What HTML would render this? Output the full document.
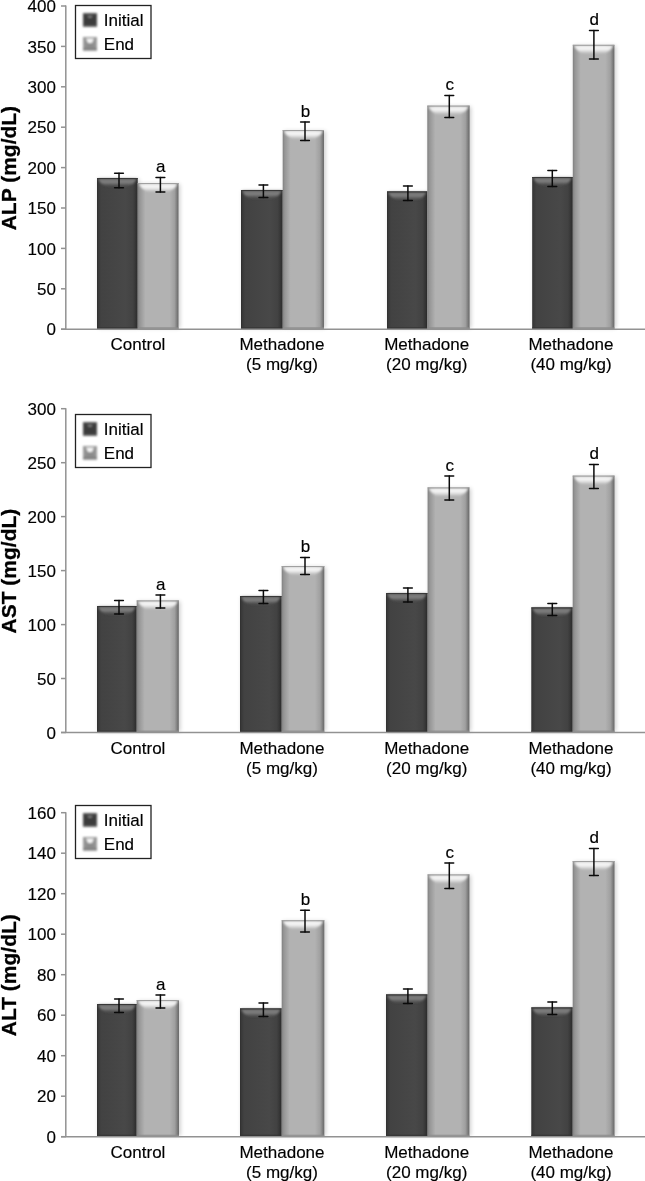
<!DOCTYPE html>
<html><head><meta charset="utf-8"><style>
html,body{margin:0;padding:0;background:#fff;}
svg{display:block;will-change:transform;}
</style></head><body>
<svg width="645" height="1181" viewBox="0 0 645 1181" font-family='"Liberation Sans", sans-serif'>
<rect width="645" height="1181" fill="#fff"/>

<defs>
  <linearGradient id="gD" x1="0" y1="0" x2="1" y2="0">
    <stop offset="0" stop-color="#2e2e2e"/>
    <stop offset="0.03" stop-color="#383838"/>
    <stop offset="0.1" stop-color="#424242"/>
    <stop offset="0.7" stop-color="#484848"/>
    <stop offset="0.88" stop-color="#424242"/>
    <stop offset="0.96" stop-color="#343434"/>
    <stop offset="1" stop-color="#2a2a2a"/>
  </linearGradient>
  <linearGradient id="gL" x1="0" y1="0" x2="1" y2="0">
    <stop offset="0" stop-color="#808080"/>
    <stop offset="0.05" stop-color="#959595"/>
    <stop offset="0.19" stop-color="#b2b2b2"/>
    <stop offset="0.78" stop-color="#b2b2b2"/>
    <stop offset="0.9" stop-color="#a0a0a0"/>
    <stop offset="0.94" stop-color="#8a8a8a"/>
    <stop offset="0.97" stop-color="#777777"/>
    <stop offset="1" stop-color="#6a6a6a"/>
  </linearGradient>
  <linearGradient id="hD" x1="0" y1="0" x2="0" y2="1">
    <stop offset="0" stop-color="#767676" stop-opacity="1"/>
    <stop offset="0.45" stop-color="#808080" stop-opacity="1"/>
    <stop offset="0.75" stop-color="#666666" stop-opacity="0.6"/>
    <stop offset="1" stop-color="#4a4a4a" stop-opacity="0"/>
  </linearGradient>
  <linearGradient id="hL" x1="0" y1="0" x2="0" y2="1">
    <stop offset="0" stop-color="#ffffff" stop-opacity="0.85"/>
    <stop offset="0.45" stop-color="#ffffff" stop-opacity="0.85"/>
    <stop offset="0.8" stop-color="#ffffff" stop-opacity="0.35"/>
    <stop offset="1" stop-color="#ffffff" stop-opacity="0"/>
  </linearGradient>
  <filter id="sb" x="-20%" y="-50%" width="140%" height="200%">
    <feGaussianBlur stdDeviation="0.9"/>
  </filter>
  <filter id="sh" x="-50%" y="-50%" width="200%" height="200%">
    <feGaussianBlur stdDeviation="2"/>
  </filter>
</defs>

<text x="0" y="0" transform="translate(16,168.1) rotate(-90)" text-anchor="middle" font-size="21" font-weight="bold" fill="#000" stroke="#000" stroke-width="0.3">ALP (mg/dL)</text>
<line x1="61" y1="329.2" x2="66" y2="329.2" stroke="#929292" stroke-width="1.5"/>
<text x="55.9" y="335.4" text-anchor="end" font-size="17" fill="#000" stroke="#000" stroke-width="0.15">0</text>
<line x1="61" y1="288.8" x2="66" y2="288.8" stroke="#929292" stroke-width="1.5"/>
<text x="55.9" y="295.0" text-anchor="end" font-size="17" fill="#000" stroke="#000" stroke-width="0.15">50</text>
<line x1="61" y1="248.4" x2="66" y2="248.4" stroke="#929292" stroke-width="1.5"/>
<text x="55.9" y="254.6" text-anchor="end" font-size="17" fill="#000" stroke="#000" stroke-width="0.15">100</text>
<line x1="61" y1="208.0" x2="66" y2="208.0" stroke="#929292" stroke-width="1.5"/>
<text x="55.9" y="214.2" text-anchor="end" font-size="17" fill="#000" stroke="#000" stroke-width="0.15">150</text>
<line x1="61" y1="167.6" x2="66" y2="167.6" stroke="#929292" stroke-width="1.5"/>
<text x="55.9" y="173.8" text-anchor="end" font-size="17" fill="#000" stroke="#000" stroke-width="0.15">200</text>
<line x1="61" y1="127.2" x2="66" y2="127.2" stroke="#929292" stroke-width="1.5"/>
<text x="55.9" y="133.4" text-anchor="end" font-size="17" fill="#000" stroke="#000" stroke-width="0.15">250</text>
<line x1="61" y1="86.8" x2="66" y2="86.8" stroke="#929292" stroke-width="1.5"/>
<text x="55.9" y="93.0" text-anchor="end" font-size="17" fill="#000" stroke="#000" stroke-width="0.15">300</text>
<line x1="61" y1="46.4" x2="66" y2="46.4" stroke="#929292" stroke-width="1.5"/>
<text x="55.9" y="52.6" text-anchor="end" font-size="17" fill="#000" stroke="#000" stroke-width="0.15">350</text>
<line x1="61" y1="6.0" x2="66" y2="6.0" stroke="#929292" stroke-width="1.5"/>
<text x="55.9" y="12.2" text-anchor="end" font-size="17" fill="#000" stroke="#000" stroke-width="0.15">400</text>
<rect x="98.5" y="179.0" width="40.7" height="149.2" fill="#000" opacity="0.2" filter="url(#sh)"/>
<rect x="97.0" y="178.0" width="40.7" height="151.2" fill="url(#gD)"/>
<path d="M98.0,178.8 L136.7,178.8 Q133.6,185.2 126.7,187.0 L108.0,187.0 Q101.0,185.2 98.0,178.8 Z" fill="url(#hD)" filter="url(#sb)"/>
<rect x="97.0" y="327.2" width="40.7" height="2" fill="#353535" opacity="0.8"/>
<rect x="97.0" y="178.0" width="40.7" height="1" fill="#383838"/>
<rect x="139.2" y="184.0" width="40.8" height="144.2" fill="#000" opacity="0.2" filter="url(#sh)"/>
<rect x="137.7" y="183.0" width="40.8" height="146.2" fill="url(#gL)"/>
<path d="M138.7,183.8 L177.5,183.8 Q174.4,190.2 167.5,192.0 L148.7,192.0 Q141.8,190.2 138.7,183.8 Z" fill="url(#hL)" filter="url(#sb)"/>
<rect x="137.7" y="327.2" width="40.8" height="2" fill="#8c8c8c" opacity="0.8"/>
<rect x="137.7" y="183.0" width="40.8" height="1" fill="#a0a0a0"/>
<rect x="242.5" y="191.0" width="41.7" height="137.2" fill="#000" opacity="0.2" filter="url(#sh)"/>
<rect x="241.0" y="190.0" width="41.7" height="139.2" fill="url(#gD)"/>
<path d="M242.0,190.8 L281.7,190.8 Q278.6,197.2 271.7,199.0 L252.0,199.0 Q245.1,197.2 242.0,190.8 Z" fill="url(#hD)" filter="url(#sb)"/>
<rect x="241.0" y="327.2" width="41.7" height="2" fill="#353535" opacity="0.8"/>
<rect x="241.0" y="190.0" width="41.7" height="1" fill="#383838"/>
<rect x="284.2" y="131.0" width="41.3" height="197.2" fill="#000" opacity="0.2" filter="url(#sh)"/>
<rect x="282.7" y="130.0" width="41.3" height="199.2" fill="url(#gL)"/>
<path d="M283.7,130.8 L323.0,130.8 Q319.9,137.2 313.0,139.0 L293.7,139.0 Q286.8,137.2 283.7,130.8 Z" fill="url(#hL)" filter="url(#sb)"/>
<rect x="282.7" y="327.2" width="41.3" height="2" fill="#8c8c8c" opacity="0.8"/>
<rect x="282.7" y="130.0" width="41.3" height="1" fill="#a0a0a0"/>
<rect x="388.5" y="192.4" width="40.3" height="135.8" fill="#000" opacity="0.2" filter="url(#sh)"/>
<rect x="387.0" y="191.4" width="40.3" height="137.8" fill="url(#gD)"/>
<path d="M388.0,192.2 L426.3,192.2 Q423.2,198.6 416.3,200.4 L398.0,200.4 Q391.1,198.6 388.0,192.2 Z" fill="url(#hD)" filter="url(#sb)"/>
<rect x="387.0" y="327.2" width="40.3" height="2" fill="#353535" opacity="0.8"/>
<rect x="387.0" y="191.4" width="40.3" height="1" fill="#383838"/>
<rect x="428.8" y="106.6" width="42.3" height="221.6" fill="#000" opacity="0.2" filter="url(#sh)"/>
<rect x="427.3" y="105.6" width="42.3" height="223.6" fill="url(#gL)"/>
<path d="M428.3,106.4 L468.6,106.4 Q465.6,112.8 458.6,114.6 L438.3,114.6 Q431.4,112.8 428.3,106.4 Z" fill="url(#hL)" filter="url(#sb)"/>
<rect x="427.3" y="327.2" width="42.3" height="2" fill="#8c8c8c" opacity="0.8"/>
<rect x="427.3" y="105.6" width="42.3" height="1" fill="#a0a0a0"/>
<rect x="533.7" y="178.0" width="40.6" height="150.2" fill="#000" opacity="0.2" filter="url(#sh)"/>
<rect x="532.2" y="177.0" width="40.6" height="152.2" fill="url(#gD)"/>
<path d="M533.2,177.8 L571.8,177.8 Q568.8,184.2 561.8,186.0 L543.2,186.0 Q536.2,184.2 533.2,177.8 Z" fill="url(#hD)" filter="url(#sb)"/>
<rect x="532.2" y="327.2" width="40.6" height="2" fill="#353535" opacity="0.8"/>
<rect x="532.2" y="177.0" width="40.6" height="1" fill="#383838"/>
<rect x="574.3" y="45.8" width="41.6" height="282.4" fill="#000" opacity="0.2" filter="url(#sh)"/>
<rect x="572.8" y="44.8" width="41.6" height="284.4" fill="url(#gL)"/>
<path d="M573.8,45.6 L613.4,45.6 Q610.4,52.0 603.4,53.8 L583.8,53.8 Q576.8,52.0 573.8,45.6 Z" fill="url(#hL)" filter="url(#sb)"/>
<rect x="572.8" y="327.2" width="41.6" height="2" fill="#8c8c8c" opacity="0.8"/>
<rect x="572.8" y="44.8" width="41.6" height="1" fill="#a0a0a0"/>
<line x1="65.8" y1="5.5" x2="65.8" y2="329.2" stroke="#929292" stroke-width="1.5"/>
<line x1="61" y1="329.2" x2="645" y2="329.2" stroke="#929292" stroke-width="1.5"/>
<g stroke="#0a0a0a" stroke-width="1.5" fill="none" stroke-linecap="round"><line x1="119.0" y1="173.3" x2="119.0" y2="187.7"/><line x1="114.6" y1="173.3" x2="123.4" y2="173.3"/><line x1="114.6" y1="187.7" x2="123.4" y2="187.7"/></g>
<g stroke="#0a0a0a" stroke-width="1.5" fill="none" stroke-linecap="round"><line x1="160.4" y1="177.5" x2="160.4" y2="192.0"/><line x1="156.0" y1="177.5" x2="164.8" y2="177.5"/><line x1="156.0" y1="192.0" x2="164.8" y2="192.0"/></g>
<text x="160.8" y="172.3" text-anchor="middle" font-size="17" fill="#000" stroke="#000" stroke-width="0.15">a</text>
<g stroke="#0a0a0a" stroke-width="1.5" fill="none" stroke-linecap="round"><line x1="263.4" y1="185.0" x2="263.4" y2="197.4"/><line x1="259.0" y1="185.0" x2="267.8" y2="185.0"/><line x1="259.0" y1="197.4" x2="267.8" y2="197.4"/></g>
<g stroke="#0a0a0a" stroke-width="1.5" fill="none" stroke-linecap="round"><line x1="305.0" y1="122.0" x2="305.0" y2="140.6"/><line x1="300.6" y1="122.0" x2="309.4" y2="122.0"/><line x1="300.6" y1="140.6" x2="309.4" y2="140.6"/></g>
<text x="305.4" y="116.8" text-anchor="middle" font-size="17" fill="#000" stroke="#000" stroke-width="0.15">b</text>
<g stroke="#0a0a0a" stroke-width="1.5" fill="none" stroke-linecap="round"><line x1="407.9" y1="186.0" x2="407.9" y2="200.4"/><line x1="403.5" y1="186.0" x2="412.3" y2="186.0"/><line x1="403.5" y1="200.4" x2="412.3" y2="200.4"/></g>
<g stroke="#0a0a0a" stroke-width="1.5" fill="none" stroke-linecap="round"><line x1="449.3" y1="95.6" x2="449.3" y2="117.4"/><line x1="444.9" y1="95.6" x2="453.7" y2="95.6"/><line x1="444.9" y1="117.4" x2="453.7" y2="117.4"/></g>
<text x="449.7" y="90.4" text-anchor="middle" font-size="17" fill="#000" stroke="#000" stroke-width="0.15">c</text>
<g stroke="#0a0a0a" stroke-width="1.5" fill="none" stroke-linecap="round"><line x1="552.3" y1="170.4" x2="552.3" y2="186.4"/><line x1="547.9" y1="170.4" x2="556.7" y2="170.4"/><line x1="547.9" y1="186.4" x2="556.7" y2="186.4"/></g>
<g stroke="#0a0a0a" stroke-width="1.5" fill="none" stroke-linecap="round"><line x1="593.9" y1="30.4" x2="593.9" y2="59.0"/><line x1="589.5" y1="30.4" x2="598.3" y2="30.4"/><line x1="589.5" y1="59.0" x2="598.3" y2="59.0"/></g>
<text x="594.3" y="25.2" text-anchor="middle" font-size="17" fill="#000" stroke="#000" stroke-width="0.15">d</text>
<text x="138.0" y="350.3" text-anchor="middle" font-size="17" fill="#000" stroke="#000" stroke-width="0.15">Control</text>
<text x="282.0" y="350.3" text-anchor="middle" font-size="17" fill="#000" stroke="#000" stroke-width="0.15">Methadone</text>
<text x="282.0" y="370.3" text-anchor="middle" font-size="17" fill="#000" stroke="#000" stroke-width="0.15">(5 mg/kg)</text>
<text x="426.7" y="350.3" text-anchor="middle" font-size="17" fill="#000" stroke="#000" stroke-width="0.15">Methadone</text>
<text x="426.7" y="370.3" text-anchor="middle" font-size="17" fill="#000" stroke="#000" stroke-width="0.15">(20 mg/kg)</text>
<text x="571.0" y="350.3" text-anchor="middle" font-size="17" fill="#000" stroke="#000" stroke-width="0.15">Methadone</text>
<text x="571.0" y="370.3" text-anchor="middle" font-size="17" fill="#000" stroke="#000" stroke-width="0.15">(40 mg/kg)</text>
<rect x="75.5" y="5.5" width="75.5" height="53" fill="#fff" stroke="#222" stroke-width="1.3"/>
<g filter="url(#sb)"><rect x="83" y="13.0" width="14" height="14" fill="#444"/><rect x="85" y="14.5" width="10" height="11" fill="#3a3a3a"/><rect x="83" y="13.0" width="14" height="1.2" fill="#5e5e5e"/><rect x="83" y="25.6" width="14" height="1.4" fill="#6a6a6a"/><path d="M87.5,15.5 L92.5,15.5 L91.5,18.0 L88.5,18.0 Z" fill="#7a7a7a"/></g>
<text x="103.8" y="25.7" font-size="17" fill="#000" stroke="#000" stroke-width="0.15">Initial</text>
<g filter="url(#sb)"><rect x="83" y="37.0" width="14" height="14" fill="#9a9a9a"/><rect x="85.5" y="38.5" width="9" height="10.5" fill="#8c8c8c"/><rect x="83" y="48.0" width="14" height="1.8" fill="#7c7c7c"/><rect x="83" y="49.8" width="14" height="1.2" fill="#a5a5a5"/><path d="M86,38.5 L94,38.5 L92,43.0 L88,43.0 Z" fill="#f4f4f4"/></g>
<text x="103.8" y="49.7" font-size="17" fill="#000" stroke="#000" stroke-width="0.15">End</text>
<text x="0" y="0" transform="translate(16,571.1) rotate(-90)" text-anchor="middle" font-size="21" font-weight="bold" fill="#000" stroke="#000" stroke-width="0.3">AST (mg/dL)</text>
<line x1="61" y1="732.5" x2="66" y2="732.5" stroke="#929292" stroke-width="1.5"/>
<text x="55.9" y="738.7" text-anchor="end" font-size="17" fill="#000" stroke="#000" stroke-width="0.15">0</text>
<line x1="61" y1="678.5" x2="66" y2="678.5" stroke="#929292" stroke-width="1.5"/>
<text x="55.9" y="684.7" text-anchor="end" font-size="17" fill="#000" stroke="#000" stroke-width="0.15">50</text>
<line x1="61" y1="624.6" x2="66" y2="624.6" stroke="#929292" stroke-width="1.5"/>
<text x="55.9" y="630.8" text-anchor="end" font-size="17" fill="#000" stroke="#000" stroke-width="0.15">100</text>
<line x1="61" y1="570.6" x2="66" y2="570.6" stroke="#929292" stroke-width="1.5"/>
<text x="55.9" y="576.8" text-anchor="end" font-size="17" fill="#000" stroke="#000" stroke-width="0.15">150</text>
<line x1="61" y1="516.6" x2="66" y2="516.6" stroke="#929292" stroke-width="1.5"/>
<text x="55.9" y="522.8" text-anchor="end" font-size="17" fill="#000" stroke="#000" stroke-width="0.15">200</text>
<line x1="61" y1="462.7" x2="66" y2="462.7" stroke="#929292" stroke-width="1.5"/>
<text x="55.9" y="468.9" text-anchor="end" font-size="17" fill="#000" stroke="#000" stroke-width="0.15">250</text>
<line x1="61" y1="408.7" x2="66" y2="408.7" stroke="#929292" stroke-width="1.5"/>
<text x="55.9" y="414.9" text-anchor="end" font-size="17" fill="#000" stroke="#000" stroke-width="0.15">300</text>
<rect x="98.5" y="607.0" width="39.7" height="124.5" fill="#000" opacity="0.2" filter="url(#sh)"/>
<rect x="97.0" y="606.0" width="39.7" height="126.5" fill="url(#gD)"/>
<path d="M98.0,606.8 L135.7,606.8 Q132.6,613.2 125.7,615.0 L108.0,615.0 Q101.0,613.2 98.0,606.8 Z" fill="url(#hD)" filter="url(#sb)"/>
<rect x="97.0" y="730.5" width="39.7" height="2" fill="#353535" opacity="0.8"/>
<rect x="97.0" y="606.0" width="39.7" height="1" fill="#383838"/>
<rect x="138.2" y="601.4" width="42.1" height="130.1" fill="#000" opacity="0.2" filter="url(#sh)"/>
<rect x="136.7" y="600.4" width="42.1" height="132.1" fill="url(#gL)"/>
<path d="M137.7,601.2 L177.8,601.2 Q174.8,607.6 167.8,609.4 L147.7,609.4 Q140.8,607.6 137.7,601.2 Z" fill="url(#hL)" filter="url(#sb)"/>
<rect x="136.7" y="730.5" width="42.1" height="2" fill="#8c8c8c" opacity="0.8"/>
<rect x="136.7" y="600.4" width="42.1" height="1" fill="#a0a0a0"/>
<rect x="241.5" y="597.0" width="41.7" height="134.5" fill="#000" opacity="0.2" filter="url(#sh)"/>
<rect x="240.0" y="596.0" width="41.7" height="136.5" fill="url(#gD)"/>
<path d="M241.0,596.8 L280.7,596.8 Q277.6,603.2 270.7,605.0 L251.0,605.0 Q244.1,603.2 241.0,596.8 Z" fill="url(#hD)" filter="url(#sb)"/>
<rect x="240.0" y="730.5" width="41.7" height="2" fill="#353535" opacity="0.8"/>
<rect x="240.0" y="596.0" width="41.7" height="1" fill="#383838"/>
<rect x="283.2" y="567.0" width="42.6" height="164.5" fill="#000" opacity="0.2" filter="url(#sh)"/>
<rect x="281.7" y="566.0" width="42.6" height="166.5" fill="url(#gL)"/>
<path d="M282.7,566.8 L323.3,566.8 Q320.2,573.2 313.3,575.0 L292.7,575.0 Q285.8,573.2 282.7,566.8 Z" fill="url(#hL)" filter="url(#sb)"/>
<rect x="281.7" y="730.5" width="42.6" height="2" fill="#8c8c8c" opacity="0.8"/>
<rect x="281.7" y="566.0" width="42.6" height="1" fill="#a0a0a0"/>
<rect x="387.5" y="594.0" width="41.6" height="137.5" fill="#000" opacity="0.2" filter="url(#sh)"/>
<rect x="386.0" y="593.0" width="41.6" height="139.5" fill="url(#gD)"/>
<path d="M387.0,593.8 L426.6,593.8 Q423.6,600.2 416.6,602.0 L397.0,602.0 Q390.1,600.2 387.0,593.8 Z" fill="url(#hD)" filter="url(#sb)"/>
<rect x="386.0" y="730.5" width="41.6" height="2" fill="#353535" opacity="0.8"/>
<rect x="386.0" y="593.0" width="41.6" height="1" fill="#383838"/>
<rect x="429.1" y="488.4" width="41.8" height="243.1" fill="#000" opacity="0.2" filter="url(#sh)"/>
<rect x="427.6" y="487.4" width="41.8" height="245.1" fill="url(#gL)"/>
<path d="M428.6,488.2 L468.4,488.2 Q465.3,494.6 458.4,496.4 L438.6,496.4 Q431.7,494.6 428.6,488.2 Z" fill="url(#hL)" filter="url(#sb)"/>
<rect x="427.6" y="730.5" width="41.8" height="2" fill="#8c8c8c" opacity="0.8"/>
<rect x="427.6" y="487.4" width="41.8" height="1" fill="#a0a0a0"/>
<rect x="532.8" y="608.4" width="41.4" height="123.1" fill="#000" opacity="0.2" filter="url(#sh)"/>
<rect x="531.3" y="607.4" width="41.4" height="125.1" fill="url(#gD)"/>
<path d="M532.3,608.2 L571.7,608.2 Q568.7,614.6 561.7,616.4 L542.3,616.4 Q535.3,614.6 532.3,608.2 Z" fill="url(#hD)" filter="url(#sb)"/>
<rect x="531.3" y="730.5" width="41.4" height="2" fill="#353535" opacity="0.8"/>
<rect x="531.3" y="607.4" width="41.4" height="1" fill="#383838"/>
<rect x="574.2" y="476.6" width="41.8" height="254.9" fill="#000" opacity="0.2" filter="url(#sh)"/>
<rect x="572.7" y="475.6" width="41.8" height="256.9" fill="url(#gL)"/>
<path d="M573.7,476.4 L613.5,476.4 Q610.5,482.8 603.5,484.6 L583.7,484.6 Q576.8,482.8 573.7,476.4 Z" fill="url(#hL)" filter="url(#sb)"/>
<rect x="572.7" y="730.5" width="41.8" height="2" fill="#8c8c8c" opacity="0.8"/>
<rect x="572.7" y="475.6" width="41.8" height="1" fill="#a0a0a0"/>
<line x1="65.8" y1="408.2" x2="65.8" y2="732.5" stroke="#929292" stroke-width="1.5"/>
<line x1="61" y1="732.5" x2="645" y2="732.5" stroke="#929292" stroke-width="1.5"/>
<g stroke="#0a0a0a" stroke-width="1.5" fill="none" stroke-linecap="round"><line x1="119.0" y1="600.6" x2="119.0" y2="614.0"/><line x1="114.6" y1="600.6" x2="123.4" y2="600.6"/><line x1="114.6" y1="614.0" x2="123.4" y2="614.0"/></g>
<g stroke="#0a0a0a" stroke-width="1.5" fill="none" stroke-linecap="round"><line x1="160.4" y1="595.0" x2="160.4" y2="608.0"/><line x1="156.0" y1="595.0" x2="164.8" y2="595.0"/><line x1="156.0" y1="608.0" x2="164.8" y2="608.0"/></g>
<text x="160.8" y="589.8" text-anchor="middle" font-size="17" fill="#000" stroke="#000" stroke-width="0.15">a</text>
<g stroke="#0a0a0a" stroke-width="1.5" fill="none" stroke-linecap="round"><line x1="263.4" y1="590.6" x2="263.4" y2="603.4"/><line x1="259.0" y1="590.6" x2="267.8" y2="590.6"/><line x1="259.0" y1="603.4" x2="267.8" y2="603.4"/></g>
<g stroke="#0a0a0a" stroke-width="1.5" fill="none" stroke-linecap="round"><line x1="305.0" y1="557.4" x2="305.0" y2="574.6"/><line x1="300.6" y1="557.4" x2="309.4" y2="557.4"/><line x1="300.6" y1="574.6" x2="309.4" y2="574.6"/></g>
<text x="305.4" y="552.2" text-anchor="middle" font-size="17" fill="#000" stroke="#000" stroke-width="0.15">b</text>
<g stroke="#0a0a0a" stroke-width="1.5" fill="none" stroke-linecap="round"><line x1="407.9" y1="588.0" x2="407.9" y2="602.0"/><line x1="403.5" y1="588.0" x2="412.3" y2="588.0"/><line x1="403.5" y1="602.0" x2="412.3" y2="602.0"/></g>
<g stroke="#0a0a0a" stroke-width="1.5" fill="none" stroke-linecap="round"><line x1="449.3" y1="476.0" x2="449.3" y2="500.0"/><line x1="444.9" y1="476.0" x2="453.7" y2="476.0"/><line x1="444.9" y1="500.0" x2="453.7" y2="500.0"/></g>
<text x="449.7" y="470.8" text-anchor="middle" font-size="17" fill="#000" stroke="#000" stroke-width="0.15">c</text>
<g stroke="#0a0a0a" stroke-width="1.5" fill="none" stroke-linecap="round"><line x1="552.3" y1="603.4" x2="552.3" y2="615.4"/><line x1="547.9" y1="603.4" x2="556.7" y2="603.4"/><line x1="547.9" y1="615.4" x2="556.7" y2="615.4"/></g>
<g stroke="#0a0a0a" stroke-width="1.5" fill="none" stroke-linecap="round"><line x1="593.9" y1="464.4" x2="593.9" y2="488.6"/><line x1="589.5" y1="464.4" x2="598.3" y2="464.4"/><line x1="589.5" y1="488.6" x2="598.3" y2="488.6"/></g>
<text x="594.3" y="459.2" text-anchor="middle" font-size="17" fill="#000" stroke="#000" stroke-width="0.15">d</text>
<text x="138.0" y="753.6" text-anchor="middle" font-size="17" fill="#000" stroke="#000" stroke-width="0.15">Control</text>
<text x="282.0" y="753.6" text-anchor="middle" font-size="17" fill="#000" stroke="#000" stroke-width="0.15">Methadone</text>
<text x="282.0" y="773.6" text-anchor="middle" font-size="17" fill="#000" stroke="#000" stroke-width="0.15">(5 mg/kg)</text>
<text x="426.7" y="753.6" text-anchor="middle" font-size="17" fill="#000" stroke="#000" stroke-width="0.15">Methadone</text>
<text x="426.7" y="773.6" text-anchor="middle" font-size="17" fill="#000" stroke="#000" stroke-width="0.15">(20 mg/kg)</text>
<text x="571.0" y="753.6" text-anchor="middle" font-size="17" fill="#000" stroke="#000" stroke-width="0.15">Methadone</text>
<text x="571.0" y="773.6" text-anchor="middle" font-size="17" fill="#000" stroke="#000" stroke-width="0.15">(40 mg/kg)</text>
<rect x="75.5" y="414.5" width="75.5" height="53" fill="#fff" stroke="#222" stroke-width="1.3"/>
<g filter="url(#sb)"><rect x="83" y="422.0" width="14" height="14" fill="#444"/><rect x="85" y="423.5" width="10" height="11" fill="#3a3a3a"/><rect x="83" y="422.0" width="14" height="1.2" fill="#5e5e5e"/><rect x="83" y="434.6" width="14" height="1.4" fill="#6a6a6a"/><path d="M87.5,424.5 L92.5,424.5 L91.5,427.0 L88.5,427.0 Z" fill="#7a7a7a"/></g>
<text x="103.8" y="434.7" font-size="17" fill="#000" stroke="#000" stroke-width="0.15">Initial</text>
<g filter="url(#sb)"><rect x="83" y="446.0" width="14" height="14" fill="#9a9a9a"/><rect x="85.5" y="447.5" width="9" height="10.5" fill="#8c8c8c"/><rect x="83" y="457.0" width="14" height="1.8" fill="#7c7c7c"/><rect x="83" y="458.8" width="14" height="1.2" fill="#a5a5a5"/><path d="M86,447.5 L94,447.5 L92,452.0 L88,452.0 Z" fill="#f4f4f4"/></g>
<text x="103.8" y="458.7" font-size="17" fill="#000" stroke="#000" stroke-width="0.15">End</text>
<text x="0" y="0" transform="translate(16,975.2) rotate(-90)" text-anchor="middle" font-size="21" font-weight="bold" fill="#000" stroke="#000" stroke-width="0.3">ALT (mg/dL)</text>
<line x1="61" y1="1136.7" x2="66" y2="1136.7" stroke="#929292" stroke-width="1.5"/>
<text x="55.9" y="1142.9" text-anchor="end" font-size="17" fill="#000" stroke="#000" stroke-width="0.15">0</text>
<line x1="61" y1="1096.2" x2="66" y2="1096.2" stroke="#929292" stroke-width="1.5"/>
<text x="55.9" y="1102.4" text-anchor="end" font-size="17" fill="#000" stroke="#000" stroke-width="0.15">20</text>
<line x1="61" y1="1055.7" x2="66" y2="1055.7" stroke="#929292" stroke-width="1.5"/>
<text x="55.9" y="1061.9" text-anchor="end" font-size="17" fill="#000" stroke="#000" stroke-width="0.15">40</text>
<line x1="61" y1="1015.2" x2="66" y2="1015.2" stroke="#929292" stroke-width="1.5"/>
<text x="55.9" y="1021.4" text-anchor="end" font-size="17" fill="#000" stroke="#000" stroke-width="0.15">60</text>
<line x1="61" y1="974.7" x2="66" y2="974.7" stroke="#929292" stroke-width="1.5"/>
<text x="55.9" y="980.9" text-anchor="end" font-size="17" fill="#000" stroke="#000" stroke-width="0.15">80</text>
<line x1="61" y1="934.2" x2="66" y2="934.2" stroke="#929292" stroke-width="1.5"/>
<text x="55.9" y="940.4" text-anchor="end" font-size="17" fill="#000" stroke="#000" stroke-width="0.15">100</text>
<line x1="61" y1="893.7" x2="66" y2="893.7" stroke="#929292" stroke-width="1.5"/>
<text x="55.9" y="899.9" text-anchor="end" font-size="17" fill="#000" stroke="#000" stroke-width="0.15">120</text>
<line x1="61" y1="853.2" x2="66" y2="853.2" stroke="#929292" stroke-width="1.5"/>
<text x="55.9" y="859.4" text-anchor="end" font-size="17" fill="#000" stroke="#000" stroke-width="0.15">140</text>
<line x1="61" y1="812.7" x2="66" y2="812.7" stroke="#929292" stroke-width="1.5"/>
<text x="55.9" y="818.9" text-anchor="end" font-size="17" fill="#000" stroke="#000" stroke-width="0.15">160</text>
<rect x="98.5" y="1005.0" width="39.7" height="130.7" fill="#000" opacity="0.2" filter="url(#sh)"/>
<rect x="97.0" y="1004.0" width="39.7" height="132.7" fill="url(#gD)"/>
<path d="M98.0,1004.8 L135.7,1004.8 Q132.6,1011.2 125.7,1013.0 L108.0,1013.0 Q101.0,1011.2 98.0,1004.8 Z" fill="url(#hD)" filter="url(#sb)"/>
<rect x="97.0" y="1134.7" width="39.7" height="2" fill="#353535" opacity="0.8"/>
<rect x="97.0" y="1004.0" width="39.7" height="1" fill="#383838"/>
<rect x="138.2" y="1001.0" width="42.3" height="134.7" fill="#000" opacity="0.2" filter="url(#sh)"/>
<rect x="136.7" y="1000.0" width="42.3" height="136.7" fill="url(#gL)"/>
<path d="M137.7,1000.8 L178.0,1000.8 Q174.9,1007.2 168.0,1009.0 L147.7,1009.0 Q140.8,1007.2 137.7,1000.8 Z" fill="url(#hL)" filter="url(#sb)"/>
<rect x="136.7" y="1134.7" width="42.3" height="2" fill="#8c8c8c" opacity="0.8"/>
<rect x="136.7" y="1000.0" width="42.3" height="1" fill="#a0a0a0"/>
<rect x="241.5" y="1009.4" width="41.7" height="126.3" fill="#000" opacity="0.2" filter="url(#sh)"/>
<rect x="240.0" y="1008.4" width="41.7" height="128.3" fill="url(#gD)"/>
<path d="M241.0,1009.2 L280.7,1009.2 Q277.6,1015.6 270.7,1017.4 L251.0,1017.4 Q244.1,1015.6 241.0,1009.2 Z" fill="url(#hD)" filter="url(#sb)"/>
<rect x="240.0" y="1134.7" width="41.7" height="2" fill="#353535" opacity="0.8"/>
<rect x="240.0" y="1008.4" width="41.7" height="1" fill="#383838"/>
<rect x="283.2" y="921.2" width="42.6" height="214.5" fill="#000" opacity="0.2" filter="url(#sh)"/>
<rect x="281.7" y="920.2" width="42.6" height="216.5" fill="url(#gL)"/>
<path d="M282.7,921.0 L323.3,921.0 Q320.2,927.4 313.3,929.2 L292.7,929.2 Q285.8,927.4 282.7,921.0 Z" fill="url(#hL)" filter="url(#sb)"/>
<rect x="281.7" y="1134.7" width="42.6" height="2" fill="#8c8c8c" opacity="0.8"/>
<rect x="281.7" y="920.2" width="42.6" height="1" fill="#a0a0a0"/>
<rect x="387.5" y="995.4" width="41.6" height="140.3" fill="#000" opacity="0.2" filter="url(#sh)"/>
<rect x="386.0" y="994.4" width="41.6" height="142.3" fill="url(#gD)"/>
<path d="M387.0,995.2 L426.6,995.2 Q423.6,1001.6 416.6,1003.4 L397.0,1003.4 Q390.1,1001.6 387.0,995.2 Z" fill="url(#hD)" filter="url(#sb)"/>
<rect x="386.0" y="1134.7" width="41.6" height="2" fill="#353535" opacity="0.8"/>
<rect x="386.0" y="994.4" width="41.6" height="1" fill="#383838"/>
<rect x="429.1" y="875.4" width="41.8" height="260.3" fill="#000" opacity="0.2" filter="url(#sh)"/>
<rect x="427.6" y="874.4" width="41.8" height="262.3" fill="url(#gL)"/>
<path d="M428.6,875.2 L468.4,875.2 Q465.3,881.6 458.4,883.4 L438.6,883.4 Q431.7,881.6 428.6,875.2 Z" fill="url(#hL)" filter="url(#sb)"/>
<rect x="427.6" y="1134.7" width="41.8" height="2" fill="#8c8c8c" opacity="0.8"/>
<rect x="427.6" y="874.4" width="41.8" height="1" fill="#a0a0a0"/>
<rect x="532.8" y="1008.4" width="41.4" height="127.3" fill="#000" opacity="0.2" filter="url(#sh)"/>
<rect x="531.3" y="1007.4" width="41.4" height="129.3" fill="url(#gD)"/>
<path d="M532.3,1008.2 L571.7,1008.2 Q568.7,1014.6 561.7,1016.4 L542.3,1016.4 Q535.3,1014.6 532.3,1008.2 Z" fill="url(#hD)" filter="url(#sb)"/>
<rect x="531.3" y="1134.7" width="41.4" height="2" fill="#353535" opacity="0.8"/>
<rect x="531.3" y="1007.4" width="41.4" height="1" fill="#383838"/>
<rect x="574.2" y="862.0" width="41.8" height="273.7" fill="#000" opacity="0.2" filter="url(#sh)"/>
<rect x="572.7" y="861.0" width="41.8" height="275.7" fill="url(#gL)"/>
<path d="M573.7,861.8 L613.5,861.8 Q610.5,868.2 603.5,870.0 L583.7,870.0 Q576.8,868.2 573.7,861.8 Z" fill="url(#hL)" filter="url(#sb)"/>
<rect x="572.7" y="1134.7" width="41.8" height="2" fill="#8c8c8c" opacity="0.8"/>
<rect x="572.7" y="861.0" width="41.8" height="1" fill="#a0a0a0"/>
<line x1="65.8" y1="812.2" x2="65.8" y2="1136.7" stroke="#929292" stroke-width="1.5"/>
<line x1="61" y1="1136.7" x2="645" y2="1136.7" stroke="#929292" stroke-width="1.5"/>
<g stroke="#0a0a0a" stroke-width="1.5" fill="none" stroke-linecap="round"><line x1="119.0" y1="999.0" x2="119.0" y2="1012.4"/><line x1="114.6" y1="999.0" x2="123.4" y2="999.0"/><line x1="114.6" y1="1012.4" x2="123.4" y2="1012.4"/></g>
<g stroke="#0a0a0a" stroke-width="1.5" fill="none" stroke-linecap="round"><line x1="160.4" y1="995.0" x2="160.4" y2="1008.0"/><line x1="156.0" y1="995.0" x2="164.8" y2="995.0"/><line x1="156.0" y1="1008.0" x2="164.8" y2="1008.0"/></g>
<text x="160.8" y="989.8" text-anchor="middle" font-size="17" fill="#000" stroke="#000" stroke-width="0.15">a</text>
<g stroke="#0a0a0a" stroke-width="1.5" fill="none" stroke-linecap="round"><line x1="263.4" y1="1003.0" x2="263.4" y2="1016.4"/><line x1="259.0" y1="1003.0" x2="267.8" y2="1003.0"/><line x1="259.0" y1="1016.4" x2="267.8" y2="1016.4"/></g>
<g stroke="#0a0a0a" stroke-width="1.5" fill="none" stroke-linecap="round"><line x1="305.0" y1="910.3" x2="305.0" y2="931.9"/><line x1="300.6" y1="910.3" x2="309.4" y2="910.3"/><line x1="300.6" y1="931.9" x2="309.4" y2="931.9"/></g>
<text x="305.4" y="905.1" text-anchor="middle" font-size="17" fill="#000" stroke="#000" stroke-width="0.15">b</text>
<g stroke="#0a0a0a" stroke-width="1.5" fill="none" stroke-linecap="round"><line x1="407.9" y1="989.0" x2="407.9" y2="1003.4"/><line x1="403.5" y1="989.0" x2="412.3" y2="989.0"/><line x1="403.5" y1="1003.4" x2="412.3" y2="1003.4"/></g>
<g stroke="#0a0a0a" stroke-width="1.5" fill="none" stroke-linecap="round"><line x1="449.3" y1="863.0" x2="449.3" y2="888.4"/><line x1="444.9" y1="863.0" x2="453.7" y2="863.0"/><line x1="444.9" y1="888.4" x2="453.7" y2="888.4"/></g>
<text x="449.7" y="857.8" text-anchor="middle" font-size="17" fill="#000" stroke="#000" stroke-width="0.15">c</text>
<g stroke="#0a0a0a" stroke-width="1.5" fill="none" stroke-linecap="round"><line x1="552.3" y1="1002.0" x2="552.3" y2="1014.6"/><line x1="547.9" y1="1002.0" x2="556.7" y2="1002.0"/><line x1="547.9" y1="1014.6" x2="556.7" y2="1014.6"/></g>
<g stroke="#0a0a0a" stroke-width="1.5" fill="none" stroke-linecap="round"><line x1="593.9" y1="848.4" x2="593.9" y2="875.6"/><line x1="589.5" y1="848.4" x2="598.3" y2="848.4"/><line x1="589.5" y1="875.6" x2="598.3" y2="875.6"/></g>
<text x="594.3" y="843.2" text-anchor="middle" font-size="17" fill="#000" stroke="#000" stroke-width="0.15">d</text>
<text x="138.0" y="1157.8" text-anchor="middle" font-size="17" fill="#000" stroke="#000" stroke-width="0.15">Control</text>
<text x="282.0" y="1157.8" text-anchor="middle" font-size="17" fill="#000" stroke="#000" stroke-width="0.15">Methadone</text>
<text x="282.0" y="1177.8" text-anchor="middle" font-size="17" fill="#000" stroke="#000" stroke-width="0.15">(5 mg/kg)</text>
<text x="426.7" y="1157.8" text-anchor="middle" font-size="17" fill="#000" stroke="#000" stroke-width="0.15">Methadone</text>
<text x="426.7" y="1177.8" text-anchor="middle" font-size="17" fill="#000" stroke="#000" stroke-width="0.15">(20 mg/kg)</text>
<text x="571.0" y="1157.8" text-anchor="middle" font-size="17" fill="#000" stroke="#000" stroke-width="0.15">Methadone</text>
<text x="571.0" y="1177.8" text-anchor="middle" font-size="17" fill="#000" stroke="#000" stroke-width="0.15">(40 mg/kg)</text>
<rect x="75.5" y="805.5" width="75.5" height="53" fill="#fff" stroke="#222" stroke-width="1.3"/>
<g filter="url(#sb)"><rect x="83" y="813.0" width="14" height="14" fill="#444"/><rect x="85" y="814.5" width="10" height="11" fill="#3a3a3a"/><rect x="83" y="813.0" width="14" height="1.2" fill="#5e5e5e"/><rect x="83" y="825.6" width="14" height="1.4" fill="#6a6a6a"/><path d="M87.5,815.5 L92.5,815.5 L91.5,818.0 L88.5,818.0 Z" fill="#7a7a7a"/></g>
<text x="103.8" y="825.7" font-size="17" fill="#000" stroke="#000" stroke-width="0.15">Initial</text>
<g filter="url(#sb)"><rect x="83" y="837.0" width="14" height="14" fill="#9a9a9a"/><rect x="85.5" y="838.5" width="9" height="10.5" fill="#8c8c8c"/><rect x="83" y="848.0" width="14" height="1.8" fill="#7c7c7c"/><rect x="83" y="849.8" width="14" height="1.2" fill="#a5a5a5"/><path d="M86,838.5 L94,838.5 L92,843.0 L88,843.0 Z" fill="#f4f4f4"/></g>
<text x="103.8" y="849.7" font-size="17" fill="#000" stroke="#000" stroke-width="0.15">End</text>
</svg>
</body></html>
